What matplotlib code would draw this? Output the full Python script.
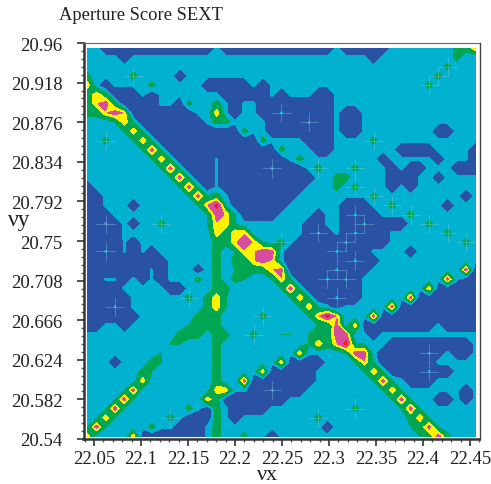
import numpy as np
import matplotlib
matplotlib.use("Agg")
import matplotlib.pyplot as plt

plt.rcParams['font.family'] = ['Liberation Serif', 'DejaVu Serif']

# score per tune node, top row first.
# 0 blue, 1 teal, g edge of green, 2 green, 3 yellow, 4 magenta, 5 red, t thin teal sliver
score_rows = [
    "11 000000000000 1 000000000000 1 00000 1111111 22 3",
    "1111 0 11111111111111111111111111 0 11111111 2 11",
    "111111111111111111111111111111111111111 2 111",
    "2 1111 2 1111 0 111111111111111111111111111 2 1111",
    "3 1 0 1111 2 11111 00000 1 0 11111111111111111 2 11111",
    "2 3 2 000 1 0 1111111 00000 1 0 111 00 1111111111111111",
    "2 3 4 2 0000 11 0 2 11 2 1 0 11 00000000 1111111111111111",
    "2 2 3 4 3 0000000 1 1 3 1 0 11 00 t 00000 1 00 1111111111111",
    "111 g 3 g 0000000 1 2 2 1111 0000 t 00 1 00 1111111111111",
    "1111 g 3 g 0000000000 2 11 0000000 1 00 11111111 00 111",
    "11 2 11 g 3 g 00000000000 2 1111 000 1111 2 11111111111",
    "111111 g 4 g 000000000000 2 111 00 1111111 0000 1111 0",
    "1111111 g 3 g 0000 t 0000000 1 2 11111111 0 11111 0 111 0",
    "11111111 g 4 g 000 t 00000 t 000 1 2 111 2 111 0 1 00 111 000",
    "111111111 g 4 g 00 t 0000000000 11 22 1111 000 1 1 0 1111",
    "0 111111111 g 4 g 0 t 000000000 111 2 1 2 111 0 1 0 1111111",
    "00 111111111 g 4 g 2 1 0000000 11111111 2 111111111 0 1",
    "00 111 0 111111 g 3 5 g 000000 111111 000 11 2 11111 0 111",
    "000 1111111111 g 4 3 g 0000 1111 0 11 0 t 00 111 2 1111111",
    "00 t 0 1 0 11 2 1111 g 3 3 g 1111111 00 11 00 t 0000 11 2 11111",
    "0000 111111111 1 3 2 3 3 111111 0 t 0 1 0 t 000 111111 2 111",
    "0000 t 0 11111111 2 2 3 4 3 g 1 2 1 00000 t 0000 11111111 2 1",
    "00 t 0 t 0 t 0 111111 2 1 g 3 3 4 4 1 00000 t 000 1111 0 1111111",
    "000000000 11111 2 1 2 2 3 4 3 1 0000000 t 00 11111111111",
    "0000000 t 0 111 0 1 2 1 g 2 2 2 3 4 00000 t 000 1111111111 4 0",
    "00 tt 0 1 0 t 0 111 2 1 2 1 2 g 11 g 3 g 000 t 0 t 0 111111111 4 1 00",
    "0000 11111 00 111 2 2 11111 g 4 g 000000 1111111 3 00000",
    "00000 111111 2 1 2 3 g 111111 g 3 g 00 t 00 11111 4 0000000",
    "000 t 0 11111111 2 3 g 1111111 g 3 g 1 0 11111 4 000000000",
    "000000 111111 2 2 2 1111 2 1111 g 3 5 3 1 11 4 00000000000",
    "00 11 0 111111 g 222 1111111111 g g 4 1 3 00000000 1 0000",
    "1111111111 222 1 22 11 2 11 g g 1 g 2 2 4 4 11 0 11111111111",
    "111111111 g g 111 2 111111111 g 3 2 3 5 g g 11 000000000 1",
    "11111111 g 11111 2 11111111 3 1111 g 4 4 1 00000 t 0 1 00 1",
    "111 0 111 2 g 11111 2 111111 3 0000 111 g 3 g 000000 11111",
    "111111 2 g 111111 2 1111 3 00000 11111 g 3 g 0000 t 00 111",
    "111111 3 1111111 2 11 4 0000000 111111 g 4 g 1 000 11111",
    "1111 g 4 11111111 3 3 11 00 t 000 11111111 g 3 g 111111 0 1",
    "111 g 4 g 1111111 3 2 0000000 11111111111 g 4 g 11 00 1 0 1",
    "11 g 4 g 111111 2 1 0 2 1 0000 111111111 2 1111 g 4 g 111111",
    "1 g 3 g 11111 2 1 000 2 1 0 11111111 2 111111111 2 3 g 11111",
    "g 4 g 1111 2 11 000 1 2 11111111111 0 11111111 g 2 4 g 1111",
    "3 1 111 3 0000000 1 2 11 2 11 0 111111111111111 g 2 4 2 111",
]

tick_x = [22.05, 22.1, 22.15, 22.2, 22.25, 22.3, 22.35, 22.4, 22.45]
tick_y = [20.54, 20.582, 20.624, 20.666, 20.708, 20.75, 20.792, 20.834, 20.876, 20.918, 20.96]
label_x = ["22.05", "22.1", "22.15", "22.2", "22.25", "22.3", "22.35", "22.4", "22.45"]
label_y = ["20.54", "20.582", "20.624", "20.666", "20.708", "20.75", "20.792", "20.834", "20.876", "20.918", "20.96"]

levels = [-1, 0.8, 1.6, 2.75, 3.4, 4.3, 6]
colours = ["#2a52a4", "#00b2cf", "#00a651", "#fff200", "#d84ca0", "#ed1c24"]
values = {"0": 0, "1": 1, "g": 1.62, "2": 2, "3": 3.3, "4": 3.8, "5": 4.6, "t": 0.9}

rows = [r.replace(" ", "") for r in score_rows][::-1]
z = np.array([[values[ch] for ch in r] for r in rows])

nu_x = 22.0428 + 0.00983 * np.arange(43)
nu_y = 20.5429 + 0.0098 * np.arange(43)

fig = plt.figure(figsize=(4.91, 4.85), dpi=100)
ax = fig.add_axes([83.5 / 491, 1 - 440 / 485, 396 / 491, 396 / 485])
ax.contourf(nu_x, nu_y, z, levels=levels, colors=colours)

# faint crosses that sit on the lone dots
for r in range(1, 42):
    for c in range(1, 42):
        around = [rows[r][c - 1], rows[r][c + 1], rows[r - 1][c], rows[r + 1][c]]
        lone_dot = rows[r][c] == "t" and around == ["0"] * 4
        lone_dot = lone_dot or (rows[r][c] == "2" and around == ["1"] * 4)
        if lone_dot:
            ax.plot(nu_x[[c - 1, c + 1]], nu_y[[r, r]], color="#8fd0e4", lw=0.5, alpha=0.5)
            ax.plot(nu_x[[c, c]], nu_y[[r - 1, r + 1]], color="#8fd0e4", lw=0.5, alpha=0.5)

ax.set_xlim(22.0388, 22.4601)
ax.set_ylim(20.54, 20.96)

ax.set_xticks(tick_x)
ax.set_xticklabels(label_x)
ax.set_yticks(tick_y)
ax.set_yticklabels(label_y)
ax.set_xticks(np.arange(22.04, 22.46, 0.01), minor=True)
ax.set_yticks(np.arange(20.54, 20.96, 0.0084), minor=True)
ax.tick_params(axis="y", which="major", length=5, width=1.2, color="#333333",
               labelsize=13.5, labelcolor="#231f20", pad=10)
ax.tick_params(axis="x", which="major", length=5, width=1.2, color="#333333",
               labelsize=13.5, labelcolor="#231f20", pad=3)
ax.tick_params(axis="both", which="minor", length=2.5, width=1, color="#555555")

ax.spines["left"].set_linewidth(1.8)
ax.spines["bottom"].set_linewidth(1.8)
ax.spines["left"].set_color("#333333")
ax.spines["bottom"].set_color("#333333")
ax.spines["top"].set_linewidth(0.8)
ax.spines["top"].set_color("#666666")
ax.spines["right"].set_linewidth(1)
ax.spines["right"].set_color("#444444")

fig.text(59 / 491, 1 - 15 / 485, "Aperture Score SEXT", fontsize=13.3, color="#231f20", va="center")
fig.text(8 / 491, 1 - 226 / 485, "νy", fontsize=17, color="#231f20", va="baseline")
fig.text(257 / 491, 1 - 480 / 485, "νx", fontsize=16, color="#231f20", va="baseline")

fig.savefig("out.png", dpi=100)
